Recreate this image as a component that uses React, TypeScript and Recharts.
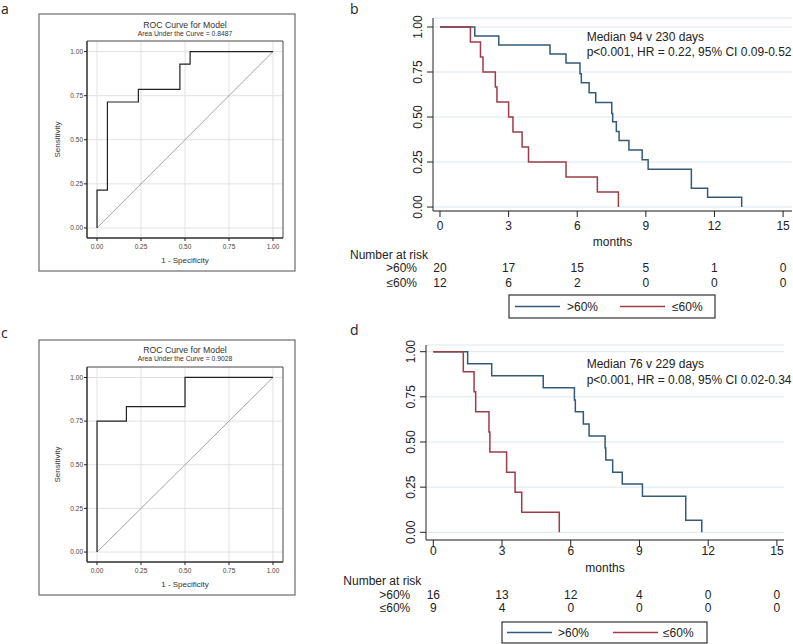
import React from 'react';
import { LineChart, Line, XAxis, YAxis, CartesianGrid, ReferenceArea } from 'recharts';

const FONT = '"Liberation Sans", Arial, Helvetica, sans-serif';
const BLUE = '#345a7a';
const RED = '#9e3c47';

// ROC curves: 1 - specificity (x) and sensitivity (y)
const rocAFpr = [0, 0, 0.059, 0.059, 0.235, 0.235, 0.471, 0.471, 0.529, 0.529, 1];
const rocATpr = [0, 0.214, 0.214, 0.714, 0.714, 0.786, 0.786, 0.929, 0.929, 1, 1];
const rocCFpr = [0, 0, 0.167, 0.167, 0.5, 0.5, 1];
const rocCTpr = [0, 0.75, 0.75, 0.833, 0.833, 1, 1];
const rocDiag = [0, 1];
const rocTicks = [0, 0.25, 0.5, 0.75, 1];

// Kaplan-Meier steps (months, survival)
const kmBHighT = [0, 1.52, 2.57, 4.81, 5.51, 6.12, 6.18, 6.52, 6.81, 7.51, 7.55, 7.71, 7.83, 8.26, 8.84, 9.1, 10.99, 11.7, 13.19];
const kmBHighS = [1, 0.95, 0.9, 0.85, 0.8, 0.74, 0.69, 0.635, 0.58, 0.52, 0.474, 0.42, 0.37, 0.317, 0.262, 0.21, 0.105, 0.055, 0];
const kmBLowT = [0, 1.33, 1.77, 1.88, 2.42, 2.49, 3.0, 3.19, 3.59, 3.87, 5.51, 6.88, 7.8];
const kmBLowS = [1, 0.917, 0.833, 0.75, 0.667, 0.583, 0.5, 0.417, 0.333, 0.25, 0.167, 0.083, 0];
const kmDHighT = [0, 1.5, 2.55, 4.8, 6.16, 6.2, 6.55, 6.8, 7.5, 7.53, 7.83, 8.25, 9.13, 11.02, 11.72];
const kmDHighS = [1, 0.933, 0.867, 0.8, 0.733, 0.667, 0.6, 0.533, 0.467, 0.4, 0.333, 0.267, 0.2, 0.067, 0];
const kmDLowT = [0, 1.31, 1.78, 1.85, 2.43, 2.47, 3.2, 3.57, 3.86, 5.5];
const kmDLowS = [1, 0.889, 0.778, 0.667, 0.556, 0.444, 0.333, 0.222, 0.111, 0];

const monthTicks = [0, 3, 6, 9, 12, 15];
const survTicks = [0, 0.25, 0.5, 0.75, 1];
const riskBHigh = [20, 17, 15, 5, 1, 0];
const riskBLow = [12, 6, 2, 0, 0, 0];
const riskDHigh = [16, 13, 12, 4, 0, 0];
const riskDLow = [9, 4, 0, 0, 0, 0];

const groups = ['>60%', '≤60%'];
const groupColors = [BLUE, RED];

const pts = (xs: number[], ys: number[]) => xs.map((x, i) => ({ x, y: ys[i] }));

function RocPanel({ left, top, height, fpr, tpr }: any) {
  const width = 256;
  return (
    <div style={{ position: 'absolute', left, top, width, height }}>
      <LineChart width={width} height={height} margin={{ top: 27, right: 12, bottom: 0, left: 0 }}>
        <CartesianGrid stroke="#e2e2e2" />
        <ReferenceArea x1={-0.057} x2={1.057} y1={-0.057} y2={1.06} fill="none" stroke="#555" strokeWidth={1} />
        <XAxis
          type="number"
          dataKey="x"
          domain={[-0.057, 1.057]}
          ticks={rocTicks}
          allowDataOverflow
          height={33}
          tickSize={3}
          tickMargin={3.5}
          tickFormatter={(v: number) => v.toFixed(2)}
          tick={{ fontSize: 6.5, fill: '#444', fontFamily: FONT }}
          stroke="#222"
          label={{ value: '1 - Specificity', position: 'insideTop', offset: 19.5, fontSize: 8, fill: '#333', fontFamily: FONT }}
        />
        <YAxis
          type="number"
          domain={[-0.057, 1.06]}
          ticks={rocTicks}
          allowDataOverflow
          width={48}
          tickSize={3}
          tickMargin={1}
          tickFormatter={(v: number) => v.toFixed(2)}
          tick={{ fontSize: 6.5, fill: '#444', fontFamily: FONT }}
          stroke="#222"
          label={{ value: 'Sensitivity', angle: -90, position: 'insideLeft', offset: 18, fontSize: 8, fill: '#333', fontFamily: FONT, style: { textAnchor: 'middle' } }}
        />
        <Line data={pts(rocDiag, rocDiag)} dataKey="y" type="linear" stroke="#999" strokeWidth={0.9} dot={false} isAnimationActive={false} />
        <Line data={pts(fpr, tpr)} dataKey="y" type="linear" stroke="#222" strokeWidth={1.2} dot={false} isAnimationActive={false} />
      </LineChart>
    </div>
  );
}

const KmYTick = (props: any) => {
  const { x, y, payload } = props;
  return (
    <text x={x} y={y} transform={`rotate(-90 ${x} ${y})`} textAnchor="middle" dominantBaseline="central"
      fontSize={12} fontFamily={FONT} fill="#222">
      {Number(payload.value).toFixed(2)}
    </text>
  );
};

const makeKmXTick = (riskHigh: number[], riskLow: number[], off: any) => (props: any) => {
  const { x, y, payload } = props;
  const i = monthTicks.indexOf(payload.value);
  return (
    <g fontFamily={FONT} fontSize={12} fill="#222">
      <text x={x} y={y + off.label} textAnchor="middle">{payload.value}</text>
      <text x={x} y={y + off.row1} textAnchor="middle">{riskHigh[i]}</text>
      <text x={x} y={y + off.row2} textAnchor="middle">{riskLow[i]}</text>
      {i === 0 && (
        <>
          <text x={x - 90} y={y + off.nar}>Number at risk</text>
          <text x={x - 23} y={y + off.row1} textAnchor="end">{groups[0]}</text>
          <text x={x - 23} y={y + off.row2} textAnchor="end">{groups[1]}</text>
        </>
      )}
    </g>
  );
};

function KmPanel(p: any) {
  const { left, top, width, height, margin, yW, xH, xDomain, yDomain, high, low, riskHigh, riskLow, off, monthsOffset } = p;
  return (
    <div style={{ position: 'absolute', left, top, width, height }}>
      <LineChart width={width} height={height} margin={margin}>
        <CartesianGrid vertical={false} stroke="#dde7ee" />
        <XAxis
          type="number"
          dataKey="x"
          domain={xDomain}
          ticks={monthTicks}
          interval={0}
          allowDataOverflow
          height={xH}
          tickSize={6}
          tickMargin={0}
          stroke="#222"
          tick={makeKmXTick(riskHigh, riskLow, off)}
          label={{ value: 'months', position: 'insideTop', offset: monthsOffset, fontSize: 12, fill: '#222', fontFamily: FONT }}
        />
        <YAxis
          type="number"
          domain={yDomain}
          ticks={survTicks}
          allowDataOverflow
          width={yW}
          tickSize={6}
          tickMargin={9}
          stroke="#222"
          tick={<KmYTick />}
        />
        <Line data={high} dataKey="y" name={groups[0]} type="stepAfter" stroke={groupColors[0]} strokeWidth={1.5} dot={false} isAnimationActive={false} />
        <Line data={low} dataKey="y" name={groups[1]} type="stepAfter" stroke={groupColors[1]} strokeWidth={1.5} dot={false} isAnimationActive={false} />
      </LineChart>
    </div>
  );
}

function KmLegend({ x, y, w, h, lineX, textX }: any) {
  const cy = y + h / 2;
  return (
    <g fontFamily={FONT} fontSize={12} fill="#222">
      <rect x={x} y={y} width={w} height={h} fill="#fff" stroke="#333" strokeWidth={1.2} />
      {groups.map((g, i) => (
        <g key={g}>
          <line x1={lineX[i]} x2={lineX[i] + 45} y1={cy} y2={cy} stroke={groupColors[i]} strokeWidth={1.5} />
          <text x={textX[i]} y={cy + 4.3}>{g}</text>
        </g>
      ))}
    </g>
  );
}

export default function App() {
  return (
    <div style={{ position: 'absolute', left: 0, top: 0, width: 793, height: 644, background: '#fff', overflow: 'hidden' }}>
      <svg width={793} height={644} style={{ position: 'absolute', left: 0, top: 0 }}>
        <rect x={39} y={14} width={256} height={257} fill="#fff" stroke="#777" strokeWidth={1.3} />
        <rect x={39} y={340} width={256} height={255} fill="#fff" stroke="#777" strokeWidth={1.3} />
      </svg>

      <RocPanel left={39} top={14} height={257} fpr={rocAFpr} tpr={rocATpr} />
      <RocPanel left={39} top={340} height={255} fpr={rocCFpr} tpr={rocCTpr} />

      <KmPanel
        left={340} top={0} width={453} height={320}
        margin={{ top: 18, right: 1, bottom: 0, left: 0 }}
        yW={93} xH={109}
        xDomain={[-0.306, 15.39]} yDomain={[-0.022, 1.05]}
        high={pts(kmBHighT, kmBHighS)} low={pts(kmBLowT, kmBLowS)}
        riskHigh={riskBHigh} riskLow={riskBLow}
        off={{ label: 13.3, nar: 42.3, row1: 55.3, row2: 69.5 }}
        monthsOffset={26.2}
      />
      <KmPanel
        left={340} top={330} width={453} height={314}
        margin={{ top: 15, right: 9, bottom: 0, left: 0 }}
        yW={86} xH={104}
        xDomain={[-0.319, 15.31]} yDomain={[-0.0426, 1.037]}
        high={pts(kmDHighT, kmDHighS)} low={pts(kmDLowT, kmDLowS)}
        riskHigh={riskDHigh} riskLow={riskDLow}
        off={{ label: 9.3, nar: 39.0, row1: 52.8, row2: 66 }}
        monthsOffset={23.2}
      />

      <svg width={793} height={644} style={{ position: 'absolute', left: 0, top: 0, pointerEvents: 'none' }}>
        <g fontFamily='"Open Sans", "Liberation Sans", sans-serif' fontSize={14} fill="#222">
          <text x={1} y={13.5}>a</text>
          <text x={350} y={14}>b</text>
          <text x={1} y={338.3}>c</text>
          <text x={350} y={335}>d</text>
        </g>
        <g fontFamily={FONT} fill="#333" textAnchor="middle">
          <text x={185} y={28.3} fontSize={8.7}>ROC Curve for Model</text>
          <text x={185} y={35.7} fontSize={6.8}>Area Under the Curve = 0.8487</text>
          <text x={185} y={353.3} fontSize={8.7}>ROC Curve for Model</text>
          <text x={185} y={361} fontSize={6.8}>Area Under the Curve = 0.9028</text>
        </g>
        <g fontFamily={FONT} fontSize={12} fill="#222">
          <text x={586.7} y={40.7}>Median 94 v 230 days</text>
          <text x={586.7} y={55.7}>p&lt;0.001, HR = 0.22, 95% CI 0.09-0.52</text>
          <text x={586.7} y={368.3}>Median 76 v 229 days</text>
          <text x={586.7} y={384}>p&lt;0.001, HR = 0.08, 95% CI 0.02-0.34</text>
        </g>
        <KmLegend x={509} y={295} w={206} h={23} lineX={[515, 620]} textX={[567, 672]} />
        <KmLegend x={502} y={622} w={205} h={21} lineX={[507, 613]} textX={[558, 663]} />
      </svg>
    </div>
  );
}
